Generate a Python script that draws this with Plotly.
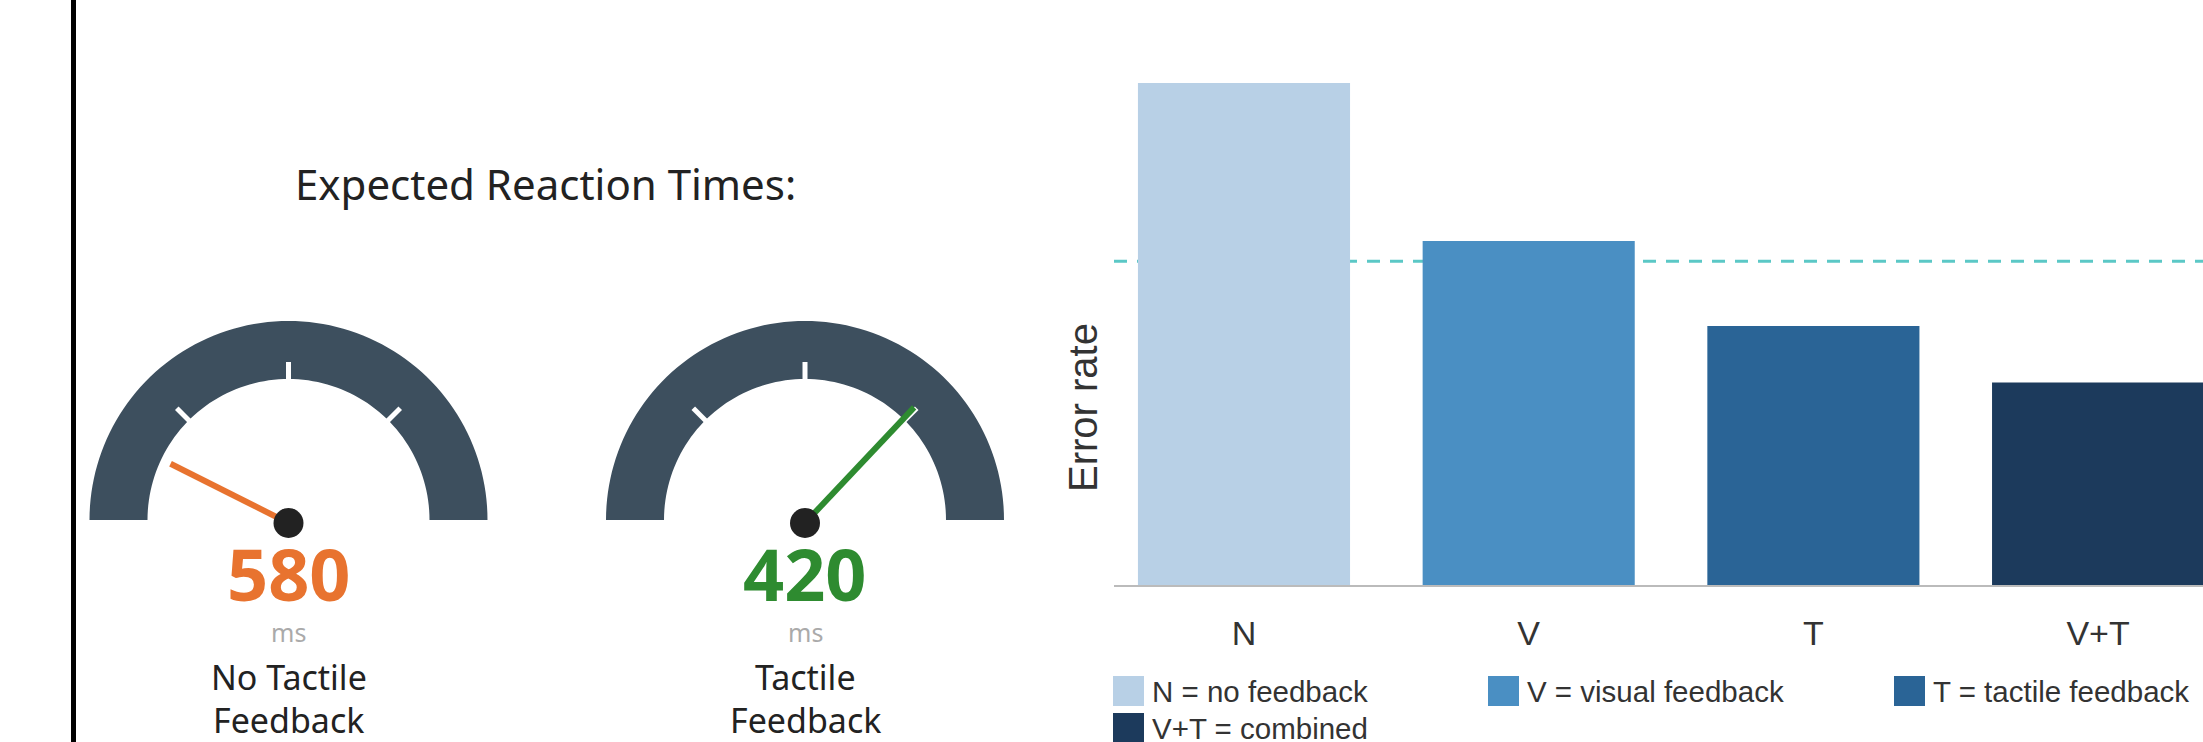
import math
import plotly.graph_objects as go

W, H = 2203, 742

# ---------------- data ----------------
categories = ["N", "V", "T", "V+T"]
error_rates = [12.4, 8.5, 6.4, 5.0]
threshold = 8.0
bar_colors = ["#b8d0e6", "#4a8fc3", "#2a6496", "#1c3a5c"]
legend_labels = ["N = no feedback", "V = visual feedback", "T = tactile feedback", "V+T = combined"]

gauge_values = [580, 420]
gauge_label_lines = [["No Tactile", "Feedback"], ["Tactile", "Feedback"]]
gauge_colors = ["#e8732f", "#2e8b30"]
gauge_unit = "ms"
gauge_min, gauge_max = 350, 620
gauge_title = "Expected Reaction Times:"

# ---------------- helpers ----------------
def px(x):
    return x / W

def py(y):
    return 1 - y / H

fig = go.Figure()

fig.add_trace(go.Bar(
    x=categories, y=error_rates, marker=dict(color=bar_colors, line=dict(width=0)),
    width=0.745, showlegend=False, hoverinfo="x+y",
))

shapes = []
annotations = []

# threshold dashed line (below bars)
shapes.append(dict(type="line", xref="paper", yref="y", x0=px(1114), x1=1, y0=threshold, y1=threshold,
                   line=dict(color="#5bc8c6", width=3, dash="13px,10px"), layer="below"))

# left black vertical line
shapes.append(dict(type="line", xref="paper", yref="paper", x0=px(73.5), x1=px(73.5), y0=0, y1=1,
                   line=dict(color="#000000", width=5)))

# ---------------- gauges ----------------
gauge_cx = [288.5, 805]
band_cy = 520
pivot_cy = 523
r_out, r_in = 199, 141
needle_len = [132, 159]

for i, val in enumerate(gauge_values):
    cx = gauge_cx[i]
    n = 90
    pts = []
    for k in range(n + 1):
        t = math.pi - math.pi * k / n
        pts.append((cx + r_out * math.cos(t), band_cy - r_out * math.sin(t)))
    for k in range(n + 1):
        t = math.pi * k / n
        pts.append((cx + r_in * math.cos(t), band_cy - r_in * math.sin(t)))
    path = "M " + " L ".join(f"{px(a):.6f},{py(b):.6f}" for a, b in pts) + " Z"
    shapes.append(dict(type="path", xref="paper", yref="paper", path=path,
                       fillcolor="#3d4f5e", line=dict(width=0)))
    # ticks
    for deg in (45, 90, 135):
        t = math.radians(deg)
        shapes.append(dict(type="line", xref="paper", yref="paper",
                           x0=px(cx + 140 * math.cos(t)), y0=py(band_cy - 140 * math.sin(t)),
                           x1=px(cx + 158 * math.cos(t)), y1=py(band_cy - 158 * math.sin(t)),
                           line=dict(color="#ffffff", width=5)))
    # needle
    theta = math.radians(180 - 180 * (gauge_max - val) / (gauge_max - gauge_min))
    L = needle_len[i]
    shapes.append(dict(type="line", xref="paper", yref="paper",
                       x0=px(cx), y0=py(pivot_cy),
                       x1=px(cx + L * math.cos(theta)), y1=py(pivot_cy - L * math.sin(theta)),
                       line=dict(color=gauge_colors[i], width=6)))
    # hub
    shapes.append(dict(type="circle", xref="paper", yref="paper",
                       x0=px(cx - 15), x1=px(cx + 15), y0=py(pivot_cy + 15), y1=py(pivot_cy - 15),
                       fillcolor="#222222", line=dict(width=0)))
    # value
    annotations.append(dict(xref="paper", yref="paper", x=px(cx), y=py(573), text=f"<b>{val}</b>",
                            showarrow=False, xanchor="center", yanchor="middle",
                            font=dict(family="Noto Sans", size=72, color=gauge_colors[i])))
    annotations.append(dict(xref="paper", yref="paper", x=px(cx), y=py(632), text=gauge_unit,
                            showarrow=False, xanchor="center", yanchor="middle",
                            font=dict(family="Noto Sans", size=25, color="#aaaaaa")))
    for j, line_txt in enumerate(gauge_label_lines[i]):
        annotations.append(dict(xref="paper", yref="paper", x=px(cx), y=py(677 + 43 * j), text=line_txt,
                                showarrow=False, xanchor="center", yanchor="middle",
                                font=dict(family="Noto Sans", size=34, color="#222222")))

annotations.append(dict(xref="paper", yref="paper", x=px(545), y=py(183), text=gauge_title,
                        showarrow=False, xanchor="center", yanchor="middle",
                        font=dict(family="Noto Sans", size=42, color="#222222")))

# y axis title
annotations.append(dict(xref="paper", yref="paper", x=px(1083), y=py(408), text="Error rate",
                        textangle=-90, showarrow=False, xanchor="center", yanchor="middle",
                        font=dict(family="Liberation Sans, Arial", size=40, color="#333333")))

# ---------------- manual legend ----------------
leg_x = [1113, 1488, 1894, 1113]
leg_y = [676, 676, 676, 713]
for i, lab in enumerate(legend_labels):
    x0, y0 = leg_x[i], leg_y[i]
    shapes.append(dict(type="rect", xref="paper", yref="paper",
                       x0=px(x0), x1=px(x0 + 31), y0=py(y0 + 30), y1=py(y0),
                       fillcolor=bar_colors[i], line=dict(width=0)))
    annotations.append(dict(xref="paper", yref="paper", x=px(x0 + 37), y=py(y0 + 15), text=lab,
                            showarrow=False, xanchor="left", yanchor="middle",
                            font=dict(family="Liberation Sans, Arial", size=29.5, color="#333333")))

fig.update_layout(
    width=W, height=H,
    margin=dict(l=0, r=0, t=0, b=0),
    paper_bgcolor="white", plot_bgcolor="white",
    bargap=0.255,
    shapes=shapes, annotations=annotations,
    xaxis=dict(domain=[px(1114), 1], range=[-0.4566, 3.3685], showgrid=False, zeroline=False,
               showline=True, linecolor="#bbbbbb", linewidth=2,
               ticks="outside", ticklen=17, tickcolor="rgba(0,0,0,0)",
               tickfont=dict(family="Liberation Sans, Arial", size=34, color="#333333")),
    yaxis=dict(domain=[py(585), py(30)], range=[0, 13.71], showgrid=False, zeroline=False,
               showticklabels=False, showline=False),
    showlegend=False,
)

fig.write_html("out.html")
